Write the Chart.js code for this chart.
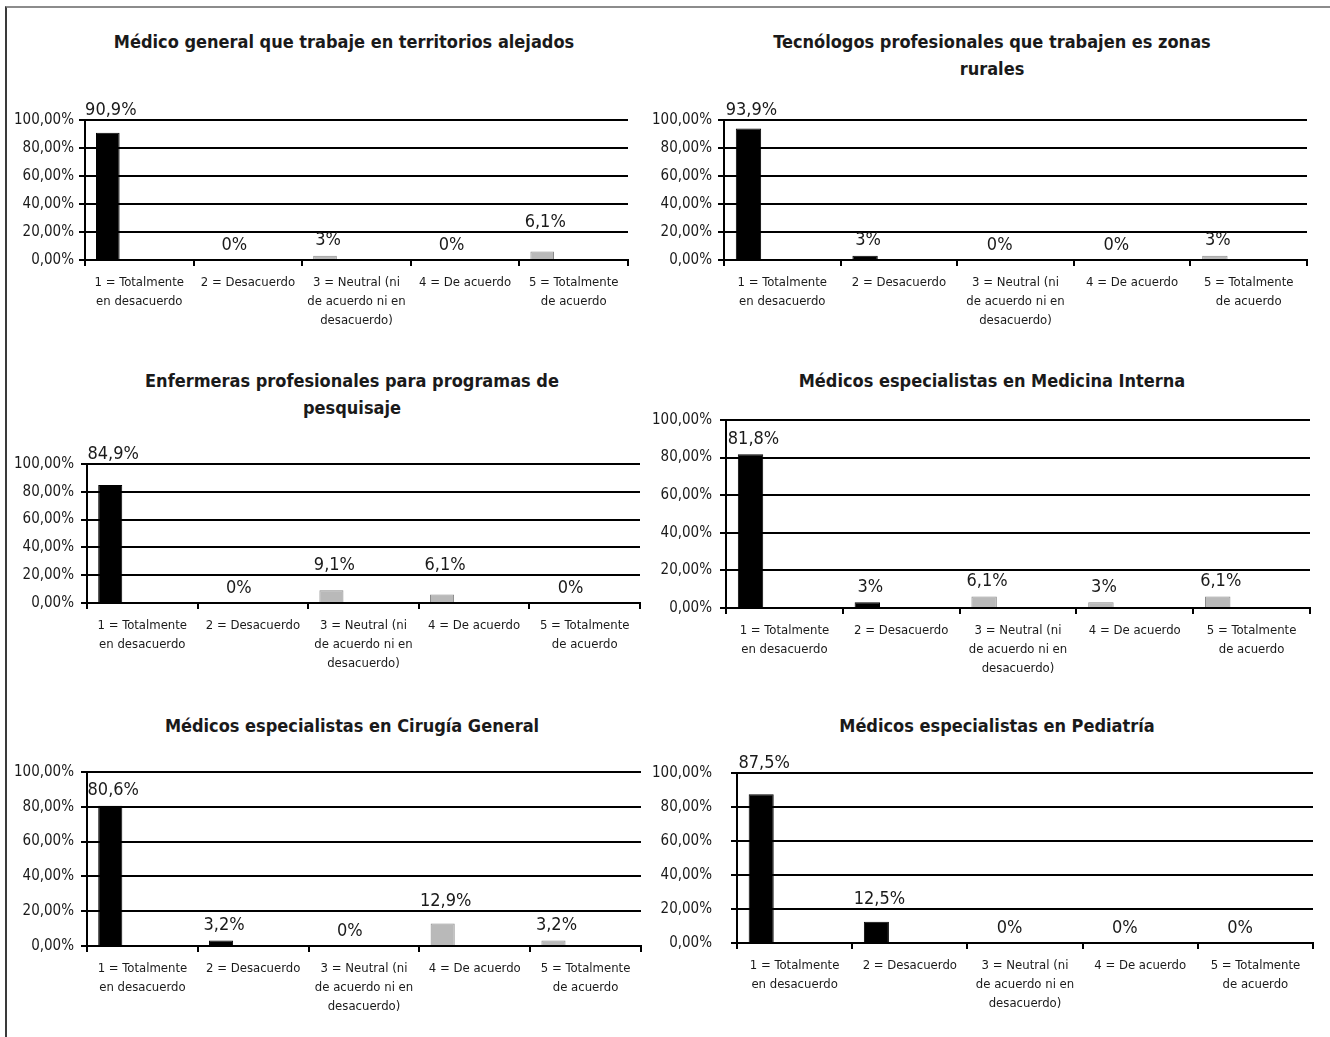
<!DOCTYPE html>
<html>
<head>
<meta charset="utf-8">
<title>Encuesta - necesidades de personal</title>
<script src="https://cdn.jsdelivr.net/npm/chart.js@4.4.1/dist/chart.umd.min.js"></script>
<style>
  body { margin: 0; background: #fff; width: 1330px; height: 1037px; overflow: hidden; position: relative; }
  .frame { position: absolute; left: 5px; top: 6px; right: 0; bottom: 0; border-top: 2px solid #8c8c8c; border-left: 2px solid #3a3a3a; }
  .panel { position: absolute; }
  .title {
    position: absolute; width: 600px; text-align: center; white-space: nowrap;
    font: bold 18px/27px "DejaVu Sans Condensed", "Liberation Sans", sans-serif; color: #1a1a1a;
  }
</style>
</head>
<body>
<div class="frame"></div>
<div id="charts"></div>
<script>
// Likert categories (tick labels, already wrapped like the original)
const categories = [
    ['1 = Totalmente', 'en desacuerdo'],
    ['2 = Desacuerdo'],
    ['3 = Neutral (ni', 'de acuerdo ni en', 'desacuerdo)'],
    ['4 = De acuerdo'],
    ['5 = Totalmente', 'de acuerdo']
];

const titles = [
    ['Médico general que trabaje en territorios alejados'],
    ['Tecnólogos profesionales que trabajen es zonas', 'rurales'],
    ['Enfermeras profesionales para programas de', 'pesquisaje'],
    ['Médicos especialistas en Medicina Interna'],
    ['Médicos especialistas en Cirugía General'],
    ['Médicos especialistas en Pediatría']
];

// Percent of answers per category
const medicoGeneral = [90.9, 0, 3, 0, 6.1];
const tecnologos = [93.9, 3, 0, 0, 3];
const enfermeras = [84.9, 0, 9.1, 6.1, 0];
const medicinaInterna = [81.8, 3, 6.1, 3, 6.1];
const cirugiaGeneral = [80.6, 3.2, 0, 12.9, 3.2];
const pediatria = [87.5, 12.5, 0, 0, 0];

const yTicks = [0, 20, 40, 60, 80, 100];

const seriesList = [medicoGeneral, tecnologos, enfermeras, medicinaInterna, cirugiaGeneral, pediatria];

// where each small chart sits on the page (titleX/titleY = centre of the first title line)
const layout = [
    { left: 8,   titleX: 344, top: 60,  titleY: 41,  plotTop: 120, plotBottom: 260, axisX: 85,  plotRight: 628,  tickPad: 5 },
    { left: 645, titleX: 992, top: 60,  titleY: 41,  plotTop: 120, plotBottom: 260, axisX: 724, plotRight: 1307, tickPad: 6 },
    { left: 8,   titleX: 352, top: 420, titleY: 380, plotTop: 464, plotBottom: 603, axisX: 87,  plotRight: 640,  tickPad: 7 },
    { left: 645, titleX: 992, top: 395, titleY: 380, plotTop: 420, plotBottom: 608, axisX: 726, plotRight: 1310, tickPad: 8 },
    { left: 8,   titleX: 352, top: 740, titleY: 725, plotTop: 772, plotBottom: 946, axisX: 87,  plotRight: 641,  tickPad: 7 },
    { left: 645, titleX: 997, top: 740, titleY: 725, plotTop: 773, plotBottom: 943, axisX: 737, plotRight: 1313, tickPad: 19 }
];

const barColors = ['#000000', '#000000', '#b9b9b9', '#b9b9b9', '#b9b9b9'];
const barBorders = ['#000000', '#000000', '#8a8a8a', '#8a8a8a', '#8a8a8a'];

const FONT = '"DejaVu Sans Condensed", "Liberation Sans", sans-serif';
const TEXT = '#1a1a1a';
const TITLE_LINE = 27;
const X_AXIS_H = 80;
const RIGHT_PAD = 12;

Chart.defaults.font.family = FONT;
Chart.defaults.color = TEXT;

function pct(v) {
    return String(v).replace('.', ',') + '%';
}

// value labels above the bars; a label that would sit on a gridline is moved just above it
// (the 0% ones sit a bit to the right, like in Excel)
const valueLabels = {
    id: 'valueLabels',
    afterDatasetsDraw(chart) {
        const ctx = chart.ctx;
        const values = chart.data.datasets[0].data;
        const lines = yTicks.map(v => chart.scales.y.getPixelForValue(v));
        ctx.save();
        ctx.font = '18px ' + FONT;
        ctx.fillStyle = TEXT;
        ctx.textAlign = 'center';
        ctx.textBaseline = 'bottom';
        chart.getDatasetMeta(0).data.forEach((bar, i) => {
            let bottom = bar.y - 6;
            const hit = lines.find(ly => ly > bottom - 16 && ly < bottom - 1);
            if (hit !== undefined) bottom = hit - 1;
            const dx = values[i] === 0 ? 18 : 3;
            ctx.fillText(pct(values[i]), bar.x + dx, bottom);
        });
        ctx.restore();
    }
};

function makeChart(i) {
    const box = layout[i];
    const holder = document.getElementById('charts');

    // chart heading
    const title = document.createElement('div');
    title.className = 'title';
    title.innerHTML = titles[i].join('<br>');
    title.style.left = (box.titleX - 300) + 'px';
    title.style.top = (box.titleY - TITLE_LINE / 2) + 'px';
    holder.appendChild(title);

    const panel = document.createElement('div');
    panel.className = 'panel';
    panel.style.left = box.left + 'px';
    panel.style.top = box.top + 'px';
    panel.style.width = (box.plotRight + RIGHT_PAD - box.left) + 'px';
    panel.style.height = (box.plotBottom + X_AXIS_H - box.top) + 'px';
    const canvas = document.createElement('canvas');
    panel.appendChild(canvas);
    holder.appendChild(panel);

    const empty = categories.map(() => null);

    return new Chart(canvas, {
        type: 'bar',
        data: {
            labels: categories,
            datasets: [
                {
                    data: seriesList[i],
                    backgroundColor: barColors,
                    borderColor: barBorders,
                    borderWidth: 1,
                    categoryPercentage: 0.87,
                    barPercentage: 0.75
                },
                // the original workbook had extra (empty) series, which pushes the bars left
                { data: empty, categoryPercentage: 0.87, barPercentage: 0.75 },
                { data: empty, categoryPercentage: 0.87, barPercentage: 0.75 }
            ]
        },
        options: {
            responsive: true,
            maintainAspectRatio: false,
            animation: false,
            layout: { padding: { left: 0, right: RIGHT_PAD, top: box.plotTop - box.top, bottom: 0 } },
            plugins: {
                legend: { display: false },
                tooltip: { enabled: false },
                title: { display: false }
            },
            scales: {
                x: {
                    offset: true,
                    grid: { display: true, offset: true, drawOnChartArea: false, drawTicks: true, tickLength: 6, color: '#000', lineWidth: 2 },
                    border: { display: true, color: '#000', width: 2 },
                    ticks: { font: { size: 13, lineHeight: 19 / 13 }, color: TEXT, padding: 7, maxRotation: 0, autoSkip: false },
                    afterFit: s => { s.height = X_AXIS_H; }
                },
                y: {
                    min: 0,
                    max: 100,
                    afterBuildTicks: s => { s.ticks = yTicks.map(v => ({ value: v })); },
                    grid: { color: '#000', lineWidth: 2, tickLength: 6, drawTicks: true },
                    border: { display: true, color: '#000', width: 2 },
                    ticks: { font: { size: 15 }, color: TEXT, padding: box.tickPad, callback: v => v.toFixed(2).replace('.', ',') + '%' },
                    afterFit: s => { s.width = box.axisX - box.left; }
                }
            }
        },
        plugins: [valueLabels]
    });
}

document.addEventListener('DOMContentLoaded', () => {
    seriesList.forEach((_, i) => makeChart(i));
});
</script>
</body>
</html>
